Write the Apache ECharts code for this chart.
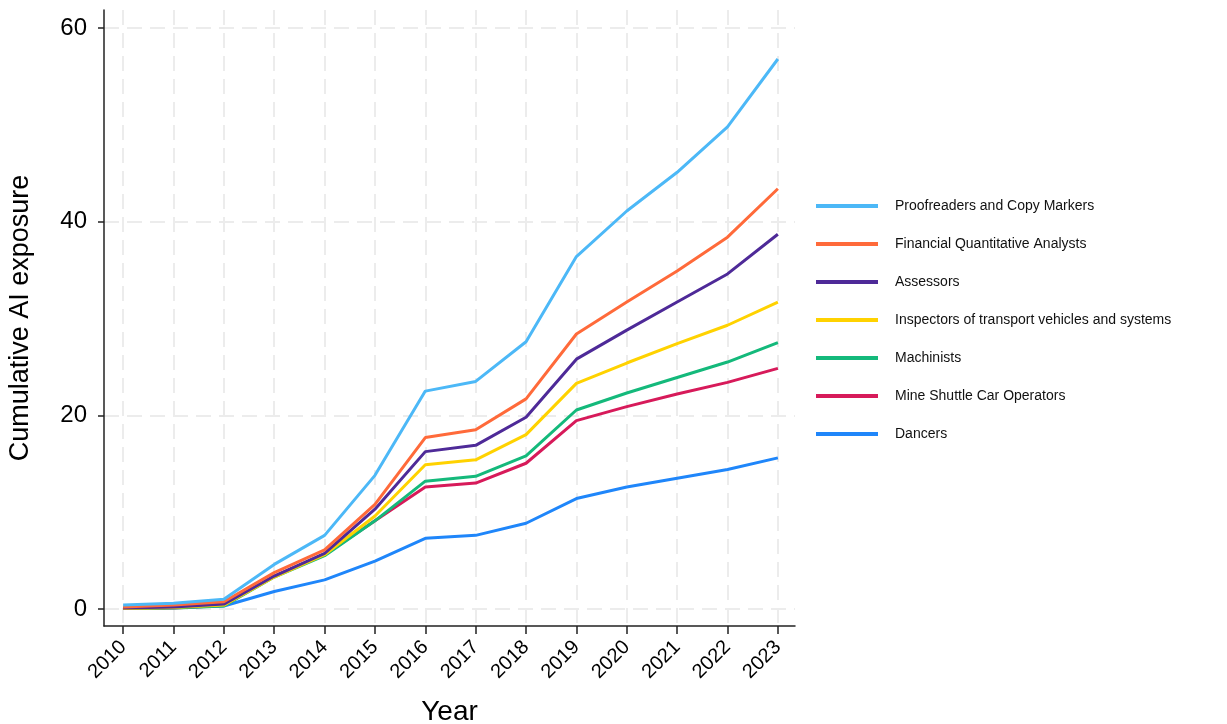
<!DOCTYPE html>
<html><head><meta charset="utf-8">
<script src="https://cdn.jsdelivr.net/npm/echarts@6/dist/echarts.min.js"></script>
<style>html,body{margin:0;padding:0;background:#fff}#c{width:1227px;height:724px}</style>
</head><body><div id="c"></div>
<script>
const years = [2010,2011,2012,2013,2014,2015,2016,2017,2018,2019,2020,2021,2022,2023];
const yTicks = [0,20,40,60];
const names = ['Proofreaders and Copy Markers','Financial Quantitative Analysts','Assessors','Inspectors of transport vehicles and systems','Machinists','Mine Shuttle Car Operators','Dancers'];
const colors = ['#4cb8f7','#ff6a3a','#4e2a98','#ffd200','#14b97b','#d71a5a','#1f86fa'];
const proofreaders = [0.4,0.6,1.0,4.6,7.6,13.8,22.5,23.5,27.6,36.4,41.1,45.1,49.8,56.8];
const financial    = [0.2,0.4,0.75,3.75,6.1,10.8,17.7,18.5,21.7,28.4,31.7,34.9,38.4,43.4];
const assessors    = [0.1,0.2,0.5,3.4,5.75,10.3,16.25,16.9,19.8,25.8,28.8,31.7,34.6,38.7];
const inspectors   = [0.05,0.15,0.4,3.3,5.6,9.6,14.9,15.4,18.0,23.3,25.4,27.4,29.3,31.7];
const machinists   = [0.05,0.1,0.3,3.3,5.5,9.1,13.2,13.7,15.8,20.55,22.3,23.9,25.5,27.5];
const mineShuttle  = [0.05,0.1,0.35,3.4,5.6,9.1,12.6,13.0,15.05,19.45,20.9,22.2,23.4,24.85];
const dancers      = [0.05,0.15,0.3,1.8,3.0,4.95,7.3,7.6,8.85,11.4,12.6,13.5,14.4,15.6];
const seriesData = [proofreaders,financial,assessors,inspectors,machinists,mineShuttle,dancers];

const FONT = 'Liberation Sans, Arial, sans-serif';
const chart = echarts.init(document.getElementById('c'));
chart.setOption({
  animation:false,
  grid:{left:104,right:432,top:10,bottom:98,containLabel:false,outerBoundsMode:'none'},
  legend:{
    orient:'vertical', left:816, top:199, padding:0, itemWidth:62, itemHeight:4, itemGap:24,
    icon:'rect',
    textStyle:{fontFamily:FONT,fontSize:14,color:'#111',padding:[0,0,0,12]},
    data:names
  },
  xAxis:{
    type:'value', min:2009.62, max:2023.34,
    name:'Year', nameLocation:'middle', nameGap:72,
    nameTextStyle:{fontFamily:FONT,fontSize:28,color:'#000'},
    axisLine:{show:true,onZero:false,lineStyle:{color:'#222',width:1.5}},
    axisTick:{show:true,length:8,lineStyle:{color:'#222',width:1.5},customValues:years},
    axisLabel:{customValues:years,rotate:45,margin:18,fontFamily:FONT,fontSize:20,color:'#000',formatter:v=>String(v)},
    splitLine:{show:true,lineStyle:{color:'#ececec',width:2,type:[15,8]}}
  },
  yAxis:{
    type:'value', min:-1.76, max:61.86,
    name:'Cumulative AI exposure', nameLocation:'middle', nameGap:70, nameRotate:90,
    nameTextStyle:{fontFamily:FONT,fontSize:27,color:'#000'},
    axisLine:{show:true,onZero:false,lineStyle:{color:'#222',width:1.5}},
    axisTick:{show:true,length:6,lineStyle:{color:'#222',width:1.5},customValues:yTicks},
    axisLabel:{customValues:yTicks,margin:17,fontFamily:FONT,fontSize:24,color:'#000'},
    splitLine:{show:true,lineStyle:{color:'#ececec',width:2,type:[15,8]}}
  },
  series: names.map((n,i)=>({
    name:n, type:'line', symbol:'none', color:colors[i],
    lineStyle:{width:3,color:colors[i]},
    data: years.map((y,j)=>[y, seriesData[i][j]])
  })).reverse()
});
</script></body></html>
